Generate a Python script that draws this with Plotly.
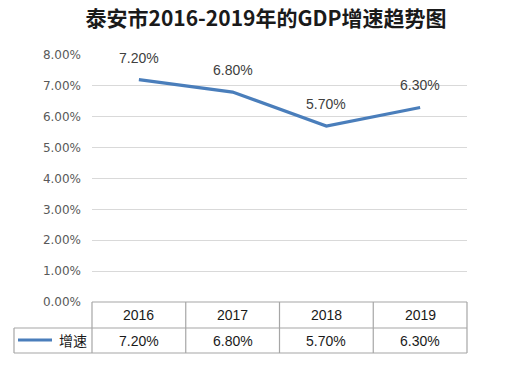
import plotly.graph_objects as go

years = ["2016", "2017", "2018", "2019"]
growth = [0.072, 0.068, 0.057, 0.063]
series_name = "增速"
title = "泰安市2016-2019年的GDP增速趋势图"

W, H = 516, 367
L, R, T, B = 92, 467, 55, 302
pw, ph = R - L, B - T

def px_x(p):
    return (p - L) / pw

def px_y(p):
    return (B - p) / ph

n = len(years)
xs = [i + 0.5 for i in range(n)]
line_color = "#4A7EBB"
border = "#A6A6A6"

fig = go.Figure()
fig.add_trace(go.Scatter(x=xs, y=growth, mode="lines",
                         line=dict(color=line_color, width=3.2),
                         hoverinfo="skip", showlegend=False))

ann = []
for x, v in zip(xs, growth):
    ann.append(dict(x=x, y=v, xref="x", yref="y", text=f"{v*100:.2f}%",
                    showarrow=False, yanchor="bottom", xanchor="center", yshift=12,
                    font=dict(size=14, color="#404040", family="Liberation Sans")))
for x, yr, v in zip(xs, years, growth):
    ann.append(dict(x=x, y=px_y(315), xref="x", yref="paper", text=yr,
                    showarrow=False, xanchor="center", yanchor="middle",
                    font=dict(size=14, color="#1a1a1a", family="Liberation Sans")))
    ann.append(dict(x=x, y=px_y(341), xref="x", yref="paper", text=f"{v*100:.2f}%",
                    showarrow=False, xanchor="center", yanchor="middle",
                    font=dict(size=14, color="#1a1a1a", family="Liberation Sans")))
ann.append(dict(x=px_x(73), y=px_y(340), xref="paper", yref="paper", text=series_name,
                showarrow=False, xanchor="center", yanchor="middle",
                font=dict(size=14, color="#1a1a1a", family="Noto Sans CJK SC")))

shapes = []
def hline(p1, p2, yp):
    shapes.append(dict(type="line", xref="paper", yref="paper", x0=px_x(p1), x1=px_x(p2),
                       y0=px_y(yp), y1=px_y(yp), line=dict(color=border, width=1.2)))
def vline(xp, yp1, yp2):
    shapes.append(dict(type="line", xref="paper", yref="paper", x0=xp, x1=xp,
                       y0=px_y(yp1), y1=px_y(yp2), line=dict(color=border, width=1.2)))
hline(L, R, 302)
hline(14, R, 328)
hline(14, R, 353)
for i in range(n + 1):
    vline(i / n, 302, 353)
vline(px_x(14), 328, 353)
shapes.append(dict(type="line", xref="paper", yref="paper", x0=px_x(18), x1=px_x(52),
                   y0=px_y(340), y1=px_y(340), line=dict(color=line_color, width=3.2)))

fig.update_layout(
    width=W, height=H,
    margin=dict(l=L, r=W - R, t=T, b=H - B, pad=0),
    paper_bgcolor="white", plot_bgcolor="white",
    title=dict(text=f"<b>{title}</b>", x=266 / W, xanchor="center", y=1 - 19 / H, yanchor="middle",
               font=dict(size=21, color="#1a1a1a", family="Noto Sans CJK SC")),
    xaxis=dict(range=[0, n], showticklabels=False, showgrid=False, zeroline=False,
               showline=False, fixedrange=True),
    yaxis=dict(range=[0, 0.08], dtick=0.01, tickformat=".2%", showgrid=True,
               gridcolor="#D9D9D9", gridwidth=1, zeroline=False, showline=False,
               ticks="", ticklabelstandoff=10,
               tickfont=dict(size=12, color="#595959", family="DejaVu Sans")),
    annotations=ann, shapes=shapes, showlegend=False,
)
fig.write_html("out.html", config={"displayModeBar": False},
               post_script="document.body.style.margin='0';document.body.style.overflow='hidden';")
